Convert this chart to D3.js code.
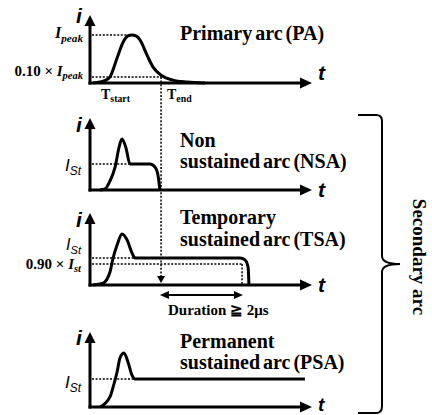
<!DOCTYPE html>
<html><head><meta charset="utf-8">
<script src="https://cdn.jsdelivr.net/npm/d3@7"></script>
<style>html,body{margin:0;padding:0;background:#fff;}svg{display:block;}</style>
</head><body>
<script>
// ---- data (time in arbitrary units 0..100 along t axis, current relative to each panel's reference level) ----
const panelNames = ["PA", "NSA", "TSA", "PSA"];
const paT  = [1.4, 4.5, 7.2, 9.0, 12.2, 14.9, 17.1, 18.9, 20.7, 22.5, 25.7, 28.4, 32.4, 37.4, 43.7, 51.8];
const paI  = [0, 0.02, 0.06, 0.125, 0.52, 0.85, 0.98, 1.0, 0.98, 0.9, 0.58, 0.33, 0.15, 0.06, 0.02, 0];
const nsaT = [4.5, 6.8, 9.0, 11.3, 13.1, 14.4, 16.2, 18.0, 27.0, 29.3, 30.6, 31.5];
const nsaI = [0, 0.04, 0.35, 0.88, 1.65, 1.96, 1.62, 1.0, 1.0, 0.88, 0.58, 0];
const tsaT = [1.4, 5.9, 9.0, 10.4, 12.2, 14.4, 16.7, 18.9, 20.3, 67.6, 69.8, 71.2, 71.6];
const tsaI = [0, 0.07, 0.48, 1.0, 1.48, 1.89, 1.67, 1.19, 1.0, 1.0, 0.93, 0.67, 0];
const psaT = [4.5, 9.0, 10.4, 12.2, 13.5, 15.3, 17.1, 18.9, 20.3, 96.8];
const psaI = [0, 0.36, 0.71, 1.25, 1.75, 1.93, 1.61, 1.14, 1.0, 1.0];
// reference levels / marks
const paPeakT = 18.9, paThreshLevel = 0.125, tEnd = 32.0;
const nsaStEndT = 18.0;
const tsaStEndT = 20.3, tsaLowLevel = 0.78, tsaLowEndT = 68.5;
const psaStEndT = 20.3;
const durationT = [31.5, 68.9];
const titles = {
  PA: ["Primary arc (PA)"],
  NSA: ["Non", "sustained arc (NSA)"],
  TSA: ["Temporary", "sustained arc (TSA)"],
  PSA: ["Permanent", "sustained arc (PSA)"]
};
const secondaryLabel = "Secondary arc";
const durationLabel = "Duration \u2267 2\u03bcs";

// ---- layout ----
const W = 432, H = 415;
const serif = "'Liberation Serif','Times New Roman',serif";
const sans = "'Liberation Sans',Arial,sans-serif";
const layout = {
  PA:  {axisY: 83,  levelY: 35,  tipY: 15,  iBase: 23,  titleY: [40]},
  NSA: {axisY: 190, levelY: 164, tipY: 118, iBase: 132, titleY: [147, 168]},
  TSA: {axisY: 285, levelY: 258, tipY: 213, iBase: 227, titleY: [224, 246]},
  PSA: {axisY: 407, levelY: 379, tipY: 332, iBase: 345, titleY: [348, 369]}
};
const x = d3.scaleLinear().domain([0, 100]).range([90, 312]);
const ys = {};
panelNames.forEach(p => ys[p] = d3.scaleLinear().domain([0, 1]).range([layout[p].axisY, layout[p].levelY]));

const svg = d3.select("body").append("svg").attr("width", W).attr("height", H);

const line = d3.line().x(d => x(d[0])).y(d => d[1]).curve(d3.curveMonotoneX);
function dotted(x1, y1, x2, y2) {
  svg.append("line").attr("x1", x1).attr("y1", y1).attr("x2", x2).attr("y2", y2)
    .attr("stroke", "#000").attr("stroke-width", 1.5).attr("stroke-dasharray", "2,1.6");
}

// dotted reference lines (drawn first, under curves)
dotted(92, ys.PA(1), x(paPeakT), ys.PA(1));
dotted(92, ys.PA(paThreshLevel), x(tEnd), ys.PA(paThreshLevel));
dotted(x(tEnd), ys.PA(paThreshLevel), x(tEnd), 278);
svg.append("path").attr("d", `M${x(tEnd)-4},${276} L${x(tEnd)+4},${276} L${x(tEnd)},${283} Z`).attr("fill", "#000");
dotted(92, ys.NSA(1), x(nsaStEndT), ys.NSA(1));
dotted(92, ys.TSA(1), x(tsaStEndT), ys.TSA(1));
dotted(92, ys.TSA(tsaLowLevel), x(tsaLowEndT), ys.TSA(tsaLowLevel));
dotted(x(tsaLowEndT), ys.TSA(tsaLowLevel), x(tsaLowEndT), ys.TSA(0));
dotted(92, ys.PSA(1), x(psaStEndT), ys.PSA(1));

// axes
panelNames.forEach(p => {
  const L = layout[p];
  svg.append("line").attr("x1", 90).attr("y1", L.axisY + 1.5).attr("x2", 90).attr("y2", L.tipY + 8)
    .attr("stroke", "#000").attr("stroke-width", 3);
  svg.append("path").attr("d", `M90,${L.tipY} L84.5,${L.tipY+11} L95.5,${L.tipY+11} Z`).attr("fill", "#000");
  svg.append("line").attr("x1", 88.5).attr("y1", L.axisY).attr("x2", x(100) - 8).attr("y2", L.axisY)
    .attr("stroke", "#000").attr("stroke-width", 3);
  svg.append("path").attr("d", `M${x(100)},${L.axisY} L${x(100)-12},${L.axisY-5.5} L${x(100)-12},${L.axisY+5.5} Z`).attr("fill", "#000");
  svg.append("text").attr("x", 76).attr("y", L.iBase).attr("font-family", sans).attr("font-style", "italic")
    .attr("font-weight", "bold").attr("font-size", 21).text("i");
  const tY = p === "PA" ? L.axisY - 3 : (p === "PSA" ? 411 : L.axisY + 7);
  svg.append("text").attr("x", 318).attr("y", tY).attr("font-family", sans).attr("font-style", "italic")
    .attr("font-weight", "bold").attr("font-size", p === "PSA" ? 19 : 21).text("t");
});

// curves
const series = {PA: [paT, paI], NSA: [nsaT, nsaI], TSA: [tsaT, tsaI], PSA: [psaT, psaI]};
panelNames.forEach(p => {
  const [T, I] = series[p];
  const pts = T.map((t, k) => [t, ys[p](I[k])]);
  svg.append("path").attr("d", line(pts)).attr("fill", "none").attr("stroke", "#000")
    .attr("stroke-width", 3).attr("stroke-linejoin", "round");
});

// titles
panelNames.forEach(p => {
  titles[p].forEach((s, k) => {
    svg.append("text").attr("x", 180).attr("y", layout[p].titleY[k]).attr("font-family", serif)
      .attr("font-weight", "bold").attr("font-size", 20).attr("word-spacing", -2).text(s);
  });
});

// PA labels
function subLabel(xp, yp, pre, main, sub, fam, size, italicMain, bold, anchor) {
  const t = svg.append("text").attr("x", xp).attr("y", yp).attr("font-family", fam)
    .attr("font-size", size).attr("text-anchor", anchor).attr("font-weight", bold ? "bold" : "normal");
  if (pre) t.append("tspan").text(pre);
  t.append("tspan").attr("font-style", italicMain ? "italic" : "normal").text(main);
  t.append("tspan").attr("font-size", size * 0.7).attr("dy", size * 0.22)
    .attr("font-style", italicMain ? "italic" : "normal").text(sub);
  return t;
}
subLabel(83, 38, null, "I", "peak", serif, 16, true, true, "end");
subLabel(83, 76, "0.10 \u00d7 ", "I", "peak", serif, 15, true, true, "end");
subLabel(101, 99, null, "T", "start", serif, 14, false, true, "start");
subLabel(167, 99, null, "T", "end", serif, 14, false, true, "start");

// Ist labels
subLabel(81, 171, null, "I", "St", sans, 17, true, false, "end");
subLabel(81, 250, null, "I", "St", sans, 16, true, false, "end");
subLabel(81, 269, "0.90 \u00d7 ", "I", "st", serif, 15, true, true, "end");
subLabel(81, 388, null, "I", "St", sans, 17, true, false, "end");

// duration arrow
const dY = 295;
svg.append("line").attr("x1", x(durationT[0]) + 6).attr("y1", dY).attr("x2", x(durationT[1]) - 6).attr("y2", dY)
  .attr("stroke", "#000").attr("stroke-width", 2);
svg.append("path").attr("d", `M${x(durationT[0])},${dY} L${x(durationT[0])+9},${dY-4} L${x(durationT[0])+9},${dY+4} Z`).attr("fill", "#000");
svg.append("path").attr("d", `M${x(durationT[1])},${dY} L${x(durationT[1])-9},${dY-4} L${x(durationT[1])-9},${dY+4} Z`).attr("fill", "#000");
svg.append("text").attr("x", 168).attr("y", 315).attr("font-family", serif).attr("font-weight", "bold")
  .attr("font-size", 15).text(durationLabel);

// brace
svg.append("path")
  .attr("d", "M358,115 L376,115 Q382,115 382,121 L382,256 Q382,264 400,264 Q382,264 382,272 L382,406 Q382,413 376,413 L358,413")
  .attr("fill", "none").attr("stroke", "#000").attr("stroke-width", 2);
svg.append("text").attr("transform", "translate(413,257) rotate(90)").attr("text-anchor", "middle")
  .attr("font-family", serif).attr("font-weight", "bold").attr("font-size", 19).text(secondaryLabel);
</script>
</body></html>
